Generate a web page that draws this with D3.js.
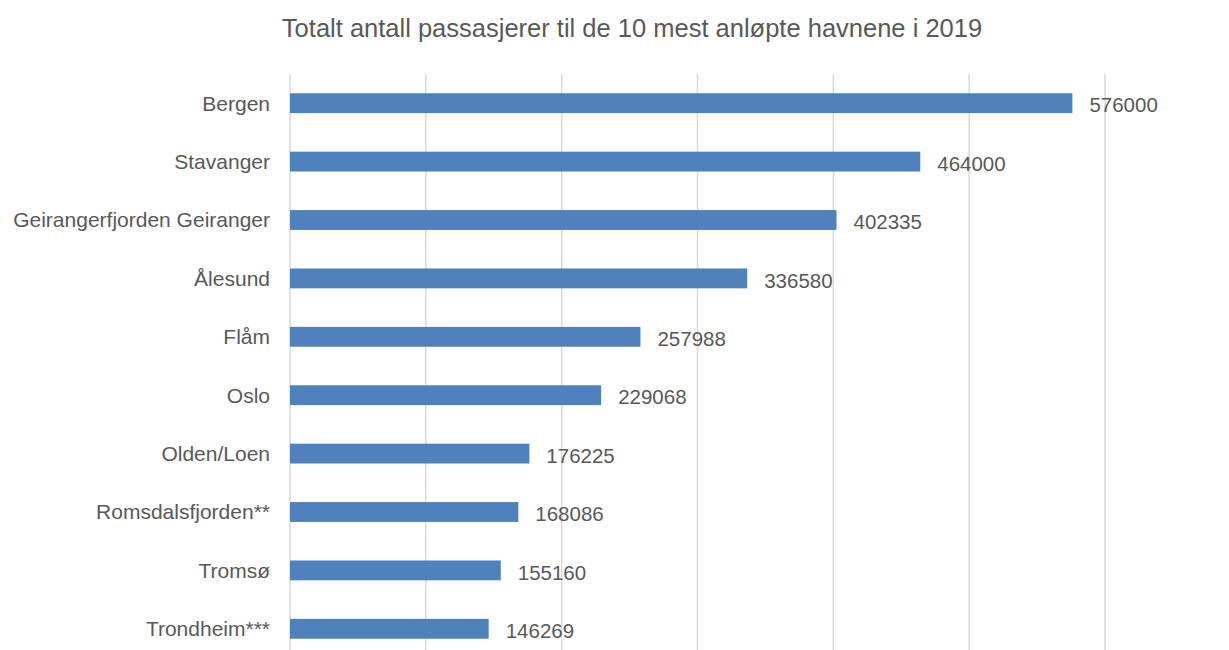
<!DOCTYPE html>
<html>
<head>
<meta charset="utf-8">
<script src="https://cdn.jsdelivr.net/npm/d3@7"></script>
<style>
  body { margin: 0; background: #fff; }
  text { font-family: "Liberation Sans", Arial, sans-serif; fill: #595959; }
</style>
</head>
<body>
<div id="chart"></div>
<script>
const ports = ['Bergen', 'Stavanger', 'Geirangerfjorden Geiranger', 'Ålesund', 'Flåm', 'Oslo',
	'Olden/Loen', 'Romsdalsfjorden**', 'Tromsø', 'Trondheim***'];
const passengers = [576000, 464000, 402335, 336580, 257988, 229068, 176225, 168086, 155160, 146269];
const gridTicks = [0, 100000, 200000, 300000, 400000, 500000, 600000];
const title = 'Totalt antall passasjerer til de 10 mest anløpte havnene i 2019';

const width = 1229;
const height = 650;
const margin = { top: 74, right: 124, bottom: -8, left: 290 };

const svg = d3.select('#chart')
	.append('svg')
	.attr('width', width)
	.attr('height', height);

const x = d3.scaleLinear().domain([ 0, 600000 ]).range([ margin.left, width - margin.right ]);
const y = d3.scaleBand().domain(ports).range([ margin.top, height - margin.bottom ]).paddingInner(0.66).paddingOuter(0.33);

// title
svg.append('text')
	.attr('x', 632)
	.attr('y', 37)
	.attr('text-anchor', 'middle')
	.style('font-size', '25.5px')
	.text(title);

// vertical gridlines
svg.selectAll('.grid')
	.data(gridTicks)
	.enter()
	.append('line')
	.attr('x1', (d) => x(d))
	.attr('x2', (d) => x(d))
	.attr('y1', margin.top)
	.attr('y2', height)
	.attr('stroke', '#d9d9d9')
	.attr('stroke-width', 1.5);

// bars
svg.selectAll('.bar')
	.data(ports)
	.enter()
	.append('rect')
	.attr('x', x(0))
	.attr('y', (d) => y(d))
	.attr('width', (d, i) => x(passengers[i]) - x(0))
	.attr('height', y.bandwidth())
	.attr('fill', '#4f81bd');

// category labels
svg.selectAll('.label')
	.data(ports)
	.enter()
	.append('text')
	.attr('x', 270)
	.attr('y', (d) => y(d) + y.bandwidth() / 2)
	.attr('dy', '0.35em')
	.attr('text-anchor', 'end')
	.style('font-size', '21px')
	.text((d) => d);

// value labels
svg.selectAll('.value')
	.data(ports)
	.enter()
	.append('text')
	.attr('x', (d, i) => x(passengers[i]) + 17)
	.attr('y', (d) => y(d) + y.bandwidth() / 2 + 2)
	.attr('dy', '0.35em')
	.style('font-size', '20.5px')
	.text((d, i) => passengers[i]);
</script>
</body>
</html>
